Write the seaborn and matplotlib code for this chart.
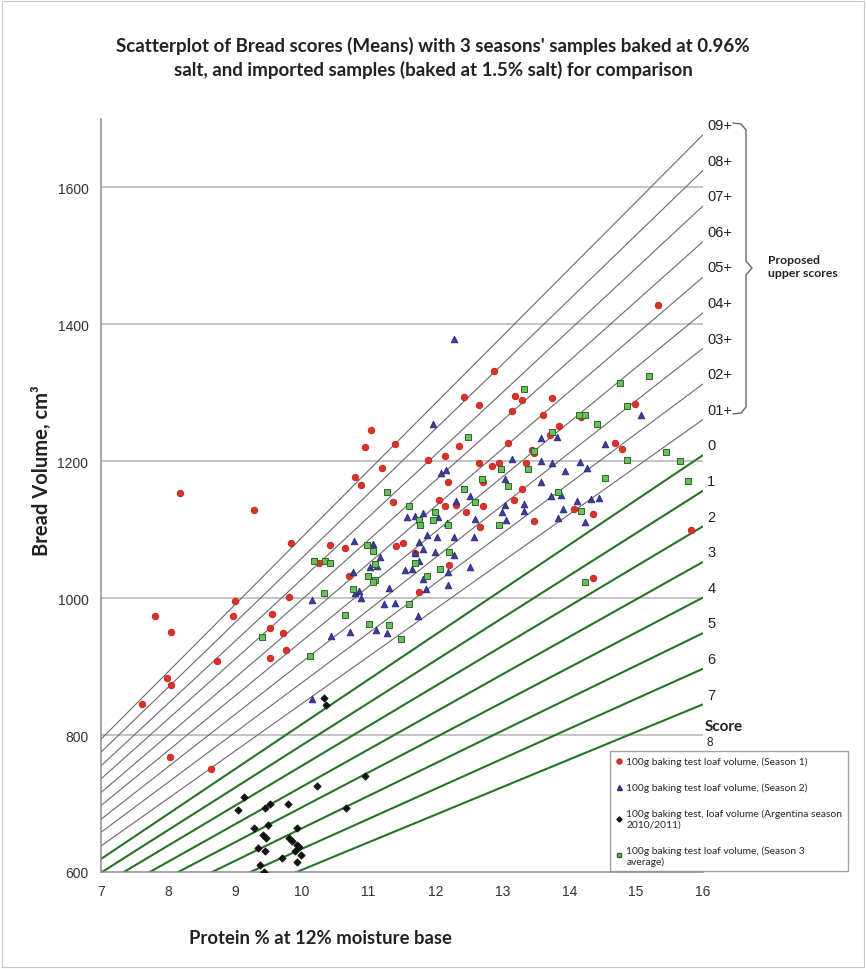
import pandas as pd
import seaborn as sns
import matplotlib.pyplot as plt
from matplotlib.lines import Line2D
from matplotlib.patches import Rectangle

# values (protein %, loaf volume cm3)
season1_protein = [8.18, 9.29, 9.84, 10.26, 9.81, 9.01, 7.81, 8.98, 9.55, 9.53, 8.04, 9.72,
                   9.77, 9.52, 8.73, 7.99, 8.05, 7.61, 8.03, 8.64, 11.04, 10.94, 11.39, 11.20,
                   10.80, 12.42, 12.87, 12.65, 12.35, 12.15, 11.89, 12.65, 12.85, 12.95, 15.33,
                   13.19, 13.30, 13.74, 13.14, 13.61, 13.85, 13.71, 14.18, 14.98, 13.09, 14.69,
                   14.79, 13.44, 13.48, 13.35, 10.89, 11.36, 12.19, 12.71, 12.06, 12.15, 12.30,
                   12.46, 12.71, 12.67, 10.43, 10.65, 11.41, 11.52, 11.70, 10.71, 12.20, 11.75,
                   13.30, 13.17, 13.48, 14.07, 14.35, 15.82, 14.35]
season1_volume = [1154, 1129, 1081, 1051, 1002, 996, 974, 974, 977, 956, 950, 949,
                  925, 913, 908, 883, 873, 845, 768, 751, 1245, 1221, 1225, 1190,
                  1177, 1294, 1332, 1282, 1222, 1208, 1202, 1197, 1193, 1198, 1429,
                  1296, 1289, 1293, 1273, 1268, 1251, 1239, 1265, 1284, 1226, 1227,
                  1218, 1216, 1212, 1197, 1166, 1140, 1170, 1169, 1143, 1134, 1136,
                  1126, 1134, 1104, 1077, 1074, 1076, 1080, 1066, 1033, 1048, 1009,
                  1160, 1143, 1113, 1131, 1123, 1099, 1029]

season2_protein = [12.27, 11.96, 12.08, 12.16, 15.07, 13.58, 13.81, 13.15, 13.58, 13.75, 14.16,
                   14.26, 13.93, 14.54, 13.04, 13.58, 13.73, 13.87, 14.11, 14.33, 14.45, 14.23,
                   13.91, 13.83, 13.33, 13.32, 13.04, 13.05, 12.99, 12.52, 12.31, 12.59, 12.28,
                   12.58, 12.03, 11.87, 11.82, 11.69, 11.58, 12.04, 12.18, 11.75, 11.82, 11.99,
                   12.28, 11.75, 11.17, 11.55, 11.65, 11.82, 11.86, 12.19, 12.19, 12.52, 11.30,
                   10.78, 11.06, 11.02, 11.13, 10.77, 10.80, 10.86, 10.89, 10.16, 11.23, 11.40,
                   11.74, 10.16, 10.44, 10.73, 11.11, 11.28, 11.70]
season2_volume = [1379, 1255, 1183, 1187, 1267, 1234, 1235, 1204, 1200, 1198, 1199,
                  1190, 1186, 1225, 1174, 1170, 1149, 1151, 1142, 1145, 1146, 1111,
                  1131, 1117, 1128, 1138, 1136, 1114, 1126, 1149, 1142, 1115, 1090,
                  1090, 1090, 1093, 1125, 1120, 1119, 1119, 1110, 1082, 1072, 1068,
                  1063, 1054, 1060, 1041, 1042, 1028, 1013, 1038, 1019, 1046, 1015,
                  1083, 1079, 1046, 1047, 1038, 1007, 1010, 1000, 998, 992, 993,
                  974, 852, 945, 950, 954, 949, 1066]

argentina_protein = [10.33, 10.36, 10.95, 10.23, 10.66, 9.14, 9.05, 9.45, 9.53, 9.79, 9.28,
                     9.50, 9.93, 9.42, 9.47, 9.81, 9.85, 9.93, 9.96, 9.35, 9.45, 9.90,
                     9.99, 9.70, 9.93, 9.37, 9.44]
argentina_volume = [854, 844, 740, 725, 694, 709, 690, 694, 700, 700, 665,
                    669, 665, 654, 650, 650, 645, 639, 636, 635, 630, 630,
                    625, 620, 615, 610, 600]

season3_protein = [13.33, 15.19, 14.76, 14.86, 14.14, 14.23, 14.41, 12.49, 13.75, 13.48, 15.45,
                   14.87, 15.65, 13.38, 12.98, 12.69, 15.78, 14.54, 12.42, 13.09, 13.83, 12.59,
                   12.00, 11.61, 11.96, 11.75, 11.77, 12.19, 12.95, 14.17, 12.20, 11.70, 11.88,
                   12.07, 14.24, 11.28, 10.98, 11.07, 10.19, 10.35, 10.43, 11.10, 10.99, 11.10,
                   11.06, 10.76, 10.33, 11.61, 10.65, 11.00, 11.30, 9.41, 10.12, 11.49]
season3_volume = [1306, 1324, 1314, 1281, 1267, 1267, 1254, 1235, 1243, 1215, 1214,
                  1202, 1201, 1189, 1188, 1174, 1171, 1175, 1159, 1164, 1155, 1140,
                  1126, 1134, 1114, 1114, 1107, 1107, 1107, 1127, 1068, 1052, 1033,
                  1042, 1024, 1155, 1077, 1069, 1055, 1055, 1051, 1050, 1032, 1027,
                  1023, 1014, 1007, 992, 976, 962, 961, 944, 915, 941]

# score lines: volume where each line meets protein 7 and protein 16
score_labels = ["09+", "08+", "07+", "06+", "05+", "04+", "03+", "02+", "01+",
                "0", "1", "2", "3", "4", "5", "6", "7"]
score_vol_at_7 = [794, 775, 755, 736, 716, 697, 677, 658, 638,
                  619, 599, 580, 560, 541, 521, 502, 482]
score_vol_at_16 = [1677, 1625, 1573, 1521, 1469, 1417, 1365, 1313, 1261,
                   1209, 1157, 1105, 1053, 1001, 949, 897, 845]

series_names = ["100g baking test loaf volume, (Season 1)",
                "100g baking test loaf volume, (Season 2)",
                "100g baking test, loaf volume (Argentina season\n2010/2011)",
                "100g baking test loaf volume, (Season 3\naverage)"]

y_ticks = [600, 800, 1000, 1200, 1400, 1600]
x_ticks = [7, 8, 9, 10, 11, 12, 13, 14, 15, 16]

df = pd.concat([
    pd.DataFrame({"protein": season1_protein, "volume": season1_volume, "series": series_names[0]}),
    pd.DataFrame({"protein": season2_protein, "volume": season2_volume, "series": series_names[1]}),
    pd.DataFrame({"protein": argentina_protein, "volume": argentina_volume, "series": series_names[2]}),
    pd.DataFrame({"protein": season3_protein, "volume": season3_volume, "series": series_names[3]}),
])

sns.set_style("white")
plt.rcParams["font.family"] = ["Lato", "DejaVu Sans"]

W, H = 866, 970
fig = plt.figure(figsize=(W / 100, H / 100), dpi=100)
ax = fig.add_axes([101 / W, 1 - 873 / H, 602 / W, 753 / H])

# horizontal grid
for v in y_ticks[1:]:
    ax.axhline(v, color="#b4b4b4", lw=1.1, zorder=1)

# score lines
for lab, v7, v16 in zip(score_labels, score_vol_at_7, score_vol_at_16):
    upper = lab.endswith("+")
    ax.plot([7, 16], [v7, v16], color="#6a6a6a" if upper else "#267326",
            lw=0.8 if upper else 1.5, zorder=2, solid_capstyle="butt")
    ax.annotate(lab, xy=(16, v16), xytext=(3, 7), textcoords="offset points",
                ha="left", va="center", fontsize=10.5, family="Liberation Sans",
                color="#222222", annotation_clip=False)
ax.text(16.05, 790, "8", ha="left", va="center", fontsize=8.5,
        family="Liberation Sans", color="#222222", clip_on=False)
ax.text(16.02, 814, "Score", ha="left", va="center", fontsize=11, fontweight="bold",
        color="#222222", clip_on=False)

styles = {
    series_names[0]: dict(marker="o", color="#e0302a", edgecolor="#c42820", s=21, ms=3.6),
    series_names[1]: dict(marker="^", color="#3d3d99", edgecolor="#2e2e80", s=22, ms=3.6),
    series_names[2]: dict(marker="D", color="#111111", edgecolor="#111111", s=13, ms=2.6),
    series_names[3]: dict(marker="s", color="#6cbd5c", edgecolor="#2a6a2a", s=21, ms=3.4),
}
for name in series_names:
    st = styles[name]
    sns.scatterplot(data=df[df["series"] == name], x="protein", y="volume", ax=ax,
                    marker=st["marker"], color=st["color"], edgecolor=st["edgecolor"],
                    linewidth=0.7, s=st["s"], label=name, legend=False, zorder=4)

ax.set_xlim(7, 16)
ax.set_ylim(600, 1700)
ax.set_xticks(x_ticks)
ax.set_yticks(y_ticks)
ax.tick_params(axis="both", direction="out", length=5, width=1, color="#8a8a8a",
               labelsize=10, labelcolor="#333333", pad=4)
for lbl in ax.get_xticklabels() + ax.get_yticklabels():
    lbl.set_family("Liberation Sans")
for side in ["top", "right"]:
    ax.spines[side].set_visible(False)
for side in ["left", "bottom"]:
    ax.spines[side].set_color("#8a8a8a")
    ax.spines[side].set_linewidth(1.1)

ax.set_xlabel("Protein % at 12% moisture base", fontsize=13.3, fontweight="bold", color="#222222")
ax.set_ylabel("Bread Volume, cm³", fontsize=14.5, fontweight="bold", color="#222222")
ax.xaxis.set_label_coords((320 - 101) / 602, (873 - 930) / 753)
ax.yaxis.set_label_coords((52 - 101) / 602, (873 - 471) / 753)

fig.text(433 / W, 1 - 58 / H,
         "Scatterplot of Bread scores (Means) with 3 seasons' samples baked at 0.96%\n"
         "salt, and imported samples (baked at 1.5% salt) for comparison",
         ha="center", va="center", fontsize=13.5, fontweight="bold", color="#222222",
         linespacing=1.45)

# legend
handles = []
for name in series_names:
    st = styles[name]
    handles.append(Line2D([], [], ls="none", marker=st["marker"], color=st["color"],
                          markeredgecolor=st["edgecolor"], markersize=st["ms"]))
leg = fig.legend(handles, series_names, loc="upper left",
                 bbox_to_anchor=(610 / W, 1 - 752 / H), frameon=True, fancybox=False,
                 edgecolor="#8c8c8c", fontsize=7.4, labelspacing=1.6, handlelength=0.6,
                 handletextpad=0.45, borderpad=0.55, borderaxespad=0)
leg.get_frame().set_linewidth(1.0)

# brace for the proposed upper scores
def fx(px):
    return px / W

def fy(py):
    return 1 - py / H

brace_x = [733, 741, 746, 746, 752, 746, 746, 741, 733]
brace_y = [124, 125, 131, 262, 269, 276, 408, 414, 415]
fig.add_artist(Line2D([fx(p) for p in brace_x], [fy(p) for p in brace_y],
                      transform=fig.transFigure, color="#666666", lw=1.0))
fig.text(fx(768), fy(267), "Proposed\nupper scores", ha="left", va="center",
         fontsize=8.8, fontweight="bold", color="#222222", linespacing=1.3)

fig.add_artist(Rectangle((0.002, 0.002), 0.996, 0.996, transform=fig.transFigure,
                         fill=False, edgecolor="#c8c8c8", lw=0.8))

fig.savefig("out.png", dpi=100)
